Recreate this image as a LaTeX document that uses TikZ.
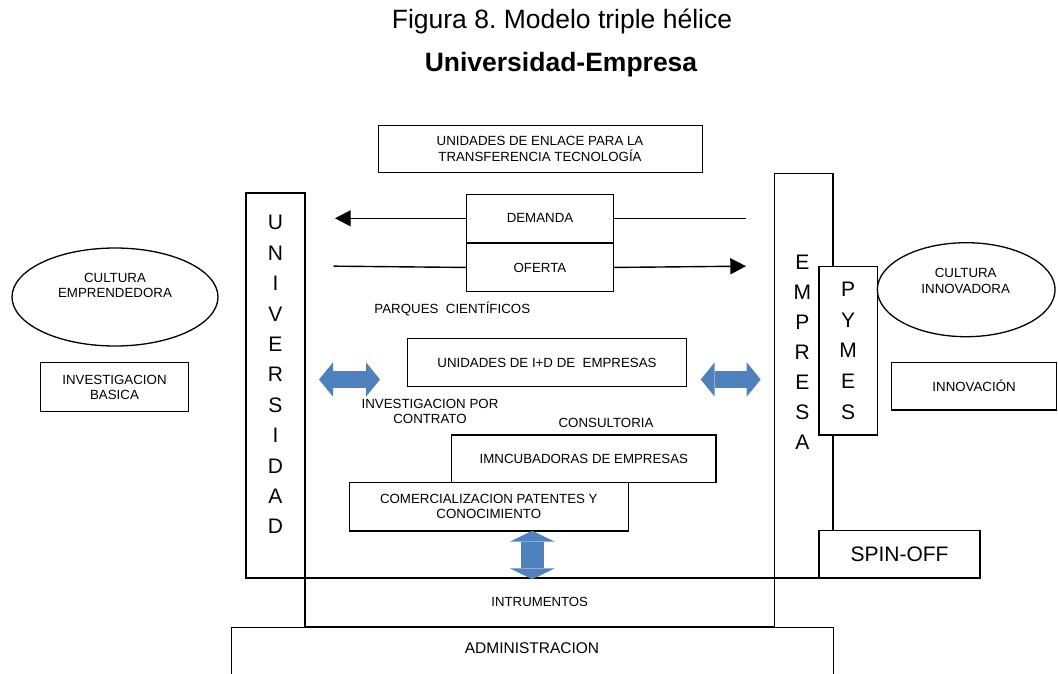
\documentclass[tikz,border=0pt]{standalone}
\usepackage{fontspec}
\setmainfont{Liberation Sans}
\usetikzlibrary{positioning, shapes.geometric, arrows.meta}
\definecolor{helixblue}{RGB}{79,129,189}
\frenchspacing

\begin{document}
\begin{tikzpicture}[x=1pt, y=-1pt, >=Latex,
  txt/.style={inner sep=0pt, align=center, font=\fontsize{13.3}{15.3}\selectfont},
  box/.style={txt, draw, line width=1.3pt, fill=white},
  oval/.style={box, ellipse},
  title/.style={inner sep=0pt, font=\fontsize{26.5}{30}\selectfont},
  letters/.style={inner sep=0pt, align=center, font=\fontsize{21}{30.4}\selectfont},
  bigtxt/.style={font=\fontsize{21}{24}\selectfont},
  line/.style={line width=1.4pt},
  flow/.style={line width=1.4pt, -{Triangle[length=15.7pt 0, width=16pt 0]}},
  link/.style={helixblue, line width=16.6pt, {Triangle[length=14pt 0, width=34.4pt 0, line width=0pt 0 0]}-{Triangle[length=14pt 0, width=34.4pt 0, line width=0pt 0 0]}},
  linkv/.style={helixblue, line width=23.5pt, {Triangle[length=11pt 0, width=45pt 0, line width=0pt 0 0]}-{Triangle[length=11pt 0, width=45pt 0, line width=0pt 0 0]}}]
  \useasboundingbox (0,0) rectangle (1058,673);
  \clip (0,0) rectangle (1058,673);
  \node[title, anchor=base] (fig) at (562,28.3) {Figura 8. Modelo triple hélice};
  \node[title, font=\fontsize{26.5}{30}\selectfont\bfseries, anchor=base] (uniemp) at (561,71.7) {Universidad-Empresa};
  \node[box, line width=1pt, minimum width=324pt, minimum height=47.7pt] (enlace) at (540,148.9) {UNIDADES DE ENLACE PARA LA\\TRANSFERENCIA TECNOLOGÍA};
  \node[box, minimum width=469.5pt, minimum height=48.7pt, fill=none, font=\fontsize{13.2}{15}\selectfont] (instr) at (539.75,602.35) {INTRUMENTOS};
  \node[box, minimum width=601.6pt, minimum height=80pt, anchor=north] (admin) at (532.5,626.7) {};
  \node[txt, font=\fontsize{15.5}{18}\selectfont] (admintxt) at (532,647.7) {ADMINISTRACION};
  \node[box, minimum width=59pt, minimum height=385pt] (univ) at (275.5,385.5) {};
  \node[letters] (univtxt) at (275.5,374.7) {U\\N\\I\\V\\E\\R\\S\\I\\D\\A\\D};
  \node[box, minimum width=58.5pt, minimum height=404.7pt] (empresa) at (803.8,375.7) {};
  \node[letters, font=\fontsize{21}{30}\selectfont] (emptxt) at (802.3,352.5) {E\\M\\P\\R\\E\\S\\A};
  \node[box, letters, font=\fontsize{21}{30.6}\selectfont, minimum width=58.3pt, minimum height=168.3pt] (pymes) at (848.2,350.8) {P\\Y\\M\\E\\S};
  \node[box, bigtxt, minimum width=161pt, minimum height=47.3pt] (spin) at (899.5,554.3) {SPIN-OFF};
  \node[box, minimum width=146.6pt, minimum height=48pt] (demanda) at (540,218.3) {DEMANDA};
  \node[box, minimum width=146.6pt, minimum height=47.7pt, anchor=north] (oferta) at (demanda.south) {OFERTA};
  \node[txt, anchor=base] (parques) at (452.3,313) {PARQUES\ \ CIENTÍFICOS};
  \node[box, minimum width=279.4pt, minimum height=48.4pt] (idemp) at (547,362.5) {UNIDADES DE I+D DE\ \ EMPRESAS};
  \node[txt] (contrato) at (430,411.5) {INVESTIGACION POR\\CONTRATO};
  \node[txt] (consult) at (606,423.3) {CONSULTORIA};
  \node[box, minimum width=264.3pt, minimum height=47.3pt] (incub) at (583.9,458.7) {IMNCUBADORAS DE EMPRESAS};
  \node[box, minimum width=279pt, minimum height=48.7pt] (comerc) at (488.8,506.7) {COMERCIALIZACION PATENTES Y\\CONOCIMIENTO};
  \node[oval, minimum width=206pt, minimum height=98pt] (cemp) at (115,297) {};
  \node[txt] (cemptxt) at (115,285.5) {CULTURA\\EMPRENDEDORA};
  \node[box, minimum width=147.6pt, minimum height=49pt] (invbas) at (114.5,387.2) {INVESTIGACION\\BASICA};
  \node[oval, minimum width=177.7pt, minimum height=94pt] (cinn) at (966.2,289.7) {};
  \node[txt] (cinntxt) at (965.7,280.8) {CULTURA\\INNOVADORA};
  \node[box, minimum width=164.8pt, minimum height=47.7pt] (innov) at (974.1,386.2) {INNOVACIÓN};
  \coordinate (dtip) at (335,218.3);
  \coordinate (dend) at (746,218.3);
  \coordinate (ostart) at (333.6,266.15);
  \coordinate (otip) at (746,266.15);
  \draw[flow] (demanda.west) -- (dtip);
  \draw[line] (demanda.east) -- (dend);
  \draw[line] (ostart) -- (oferta.west);
  \draw[flow] (oferta.east) -- (otip);
  \coordinate (la) at (319,379.5);
  \coordinate (lb) at (380,379.5);
  \coordinate (ra) at (700.7,379.5);
  \coordinate (rb) at (760.7,379.5);
  \coordinate (va) at (532.3,530.7);
  \coordinate (vb) at (532.3,579.3);
  \draw[link] (la) -- (lb);
  \draw[link] (ra) -- (rb);
  \draw[linkv] (va) -- (vb);
\end{tikzpicture}
\end{document}
